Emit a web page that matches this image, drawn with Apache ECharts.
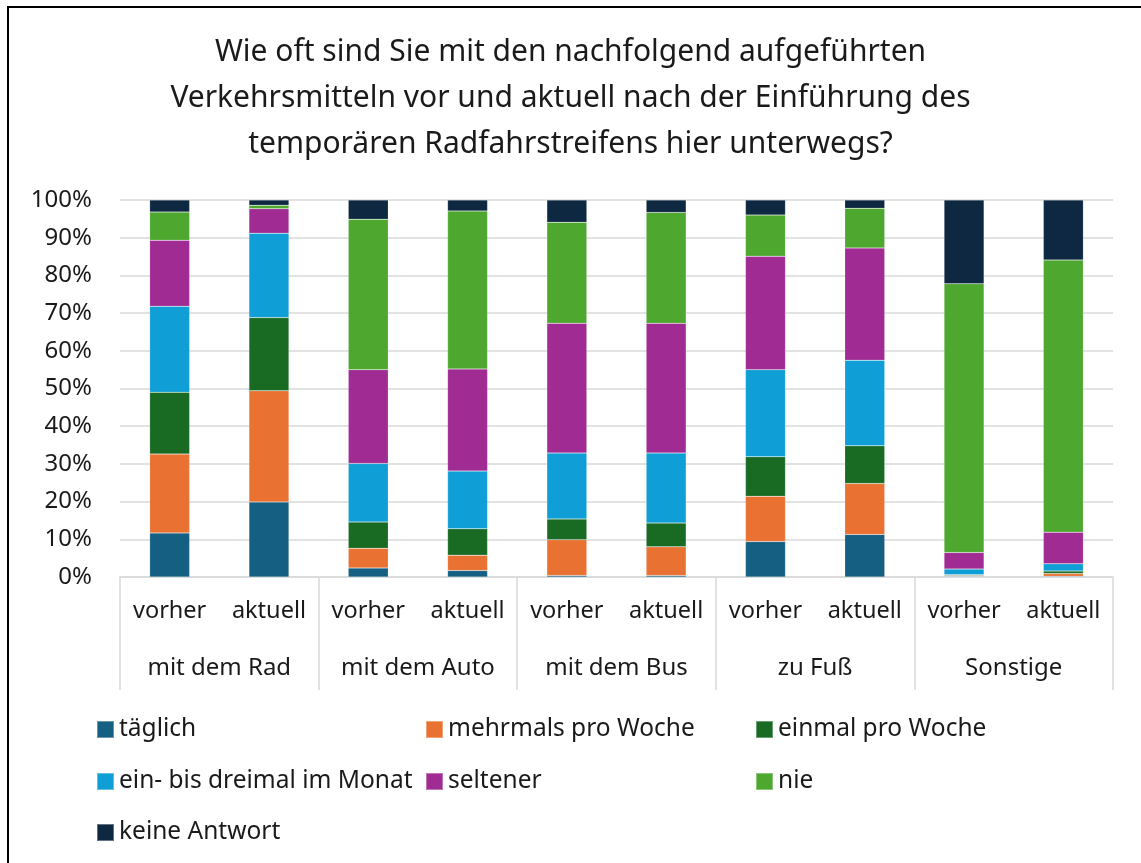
<!DOCTYPE html>
<html>
<head>
<meta charset="utf-8">
<script src="https://cdn.jsdelivr.net/npm/echarts@6/dist/echarts.min.js"></script>
<style>
html,body{margin:0;padding:0;background:#fff;}
#chart{width:1141px;height:863px;}
</style>
</head>
<body>
<div id="chart"></div>
<script>
const titleText = "Wie oft sind Sie mit den nachfolgend aufgeführten\nVerkehrsmitteln vor und aktuell nach der Einführung des\ntemporären Radfahrstreifens hier unterwegs?";
const subCategories = ["vorher","aktuell","vorher","aktuell","vorher","aktuell","vorher","aktuell","vorher","aktuell"];
const groups = ["mit dem Rad","mit dem Auto","mit dem Bus","zu Fuß","Sonstige"];
const seriesNames = ["täglich","mehrmals pro Woche","einmal pro Woche","ein- bis dreimal im Monat","seltener","nie","keine Antwort"];
const taeglich   = [11.7, 19.9, 2.4, 1.7, 0.4, 0.4, 9.4, 11.3, 0.2, 0.2];
const mehrmals   = [20.9, 29.5, 5.2, 4.1, 9.5, 7.6, 12.0, 13.5, 0.2, 0.7];
const einmal     = [16.4, 19.4, 7.0, 7.0, 5.5, 6.3, 10.5, 10.0, 0.2, 0.7];
const monat      = [22.8, 22.4, 15.5, 15.3, 17.5, 18.6, 23.1, 22.7, 1.5, 1.9];
const seltener   = [17.5, 6.5, 24.9, 27.1, 34.4, 34.4, 30.1, 29.8, 4.4, 8.4];
const nie        = [7.5, 0.9, 39.9, 41.9, 26.8, 29.4, 10.9, 10.5, 71.3, 72.2];
const keine      = [3.2, 1.4, 5.1, 2.9, 5.9, 3.3, 4.0, 2.2, 22.2, 15.9];
const colors = ["#156082","#E97132","#196B24","#0F9ED5","#A02B93","#4EA72E","#0E2841"];
const seriesData = [taeglich, mehrmals, einmal, monat, seltener, nie, keine];

const FONT = "'Noto Sans', sans-serif";
const chart = echarts.init(document.getElementById('chart'), null, {renderer:'canvas'});

const legendPos = [
  [96,717],[425,717],[755,717],
  [96,769],[425,769],[755,769],
  [96,820]
];

const option = {
  animation:false,
  color: colors,
  textStyle:{fontFamily:FONT},
  graphic:[{
    type:'rect', shape:{x:8,y:7,width:1300,height:1000},
    style:{fill:'none',stroke:'#000',lineWidth:2}, silent:true
  }],
  title:{
    text:titleText, left:'center', top:24,
    textStyle:{fontFamily:FONT,fontSize:30,fontWeight:'normal',color:'#1a1a1a',lineHeight:46}
  },
  legend: seriesNames.map((n,i)=>({
    data:[n], left:legendPos[i][0], top:legendPos[i][1],
    itemWidth:17,itemHeight:17,itemGap:0,icon:'rect',
    textStyle:{fontFamily:FONT,fontSize:24.5,color:'#1a1a1a',padding:[0,0,0,0]},
    selectedMode:false,padding:0
  })),
  grid:{left:120,right:28,top:200,height:377,containLabel:false},
  yAxis:{
    type:'value',min:0,max:100,interval:10,
    axisLabel:{formatter:'{value}%',fontFamily:FONT,fontSize:24,color:'#1a1a1a',margin:28},
    splitLine:{lineStyle:{color:'#d9d9d9',width:1.5}},
    axisLine:{show:false},axisTick:{show:false}
  },
  xAxis:[{
    type:'category',data:subCategories,position:'bottom',
    axisLine:{lineStyle:{color:'#d9d9d9',width:1.5}},
    axisTick:{show:false},
    axisLabel:{fontFamily:FONT,fontSize:23.5,color:'#1a1a1a',margin:22,interval:0}
  },{
    type:'category',data:groups,position:'bottom',
    axisLine:{show:false},
    axisTick:{show:true,length:113,lineStyle:{color:'#d9d9d9',width:1.5}},
    axisLabel:{fontFamily:FONT,fontSize:24,color:'#1a1a1a',margin:79,interval:0}
  }],
  series: seriesNames.map((n,i)=>({
    name:n,type:'bar',stack:'total',xAxisIndex:0,barWidth:40,
    data:seriesData[i],
    itemStyle:{color:colors[i],borderColor:'rgba(255,255,255,0.35)',borderWidth:0.5}
  }))
};
chart.setOption(option);
</script>
</body>
</html>
